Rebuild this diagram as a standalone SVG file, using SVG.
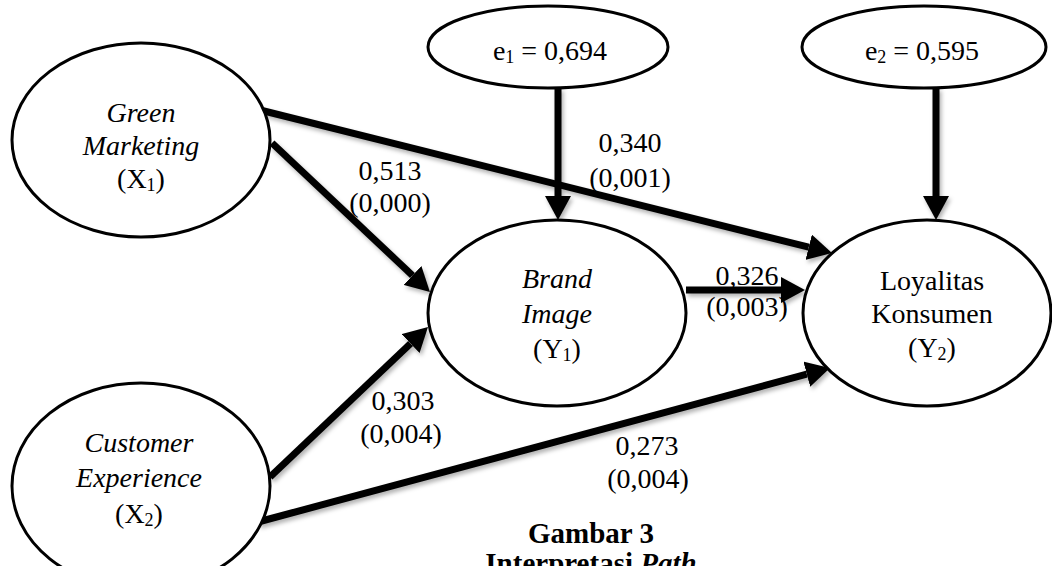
<svg xmlns="http://www.w3.org/2000/svg" width="1052" height="566" viewBox="0 0 1052 566">
<style>
text{font-family:"Liberation Serif","Times New Roman",serif;font-size:28px;fill:#000;text-anchor:middle}
.it{font-style:italic}
.sub{font-size:18px}
.node{fill:#fff;stroke:#000;stroke-width:3}
.conn{stroke:#000;stroke-width:7;fill:none;marker-end:url(#ah)}
.b{font-weight:bold}
</style>
<defs>
<marker id="ah" markerUnits="userSpaceOnUse" markerWidth="24" markerHeight="26" refX="0" refY="13" orient="auto" viewBox="0 0 24 26">
<path d="M0,0 L24,13 L0,26 z" fill="#000"/>
</marker>
<filter id="sh" x="-10%" y="-10%" width="120%" height="130%">
<feDropShadow dx="2" dy="3" stdDeviation="2" flood-color="#000" flood-opacity="0.3"/>
</filter>
</defs>
<rect width="1052" height="566" fill="#fff"/>

<g id="connectors" filter="url(#sh)">
<line class="conn" x1="558" y1="88" x2="558" y2="196"/>
<line class="conn" x1="936" y1="88" x2="936" y2="196"/>
<line class="conn" x1="260" y1="110" x2="808.7" y2="247.2"/>
<line class="conn" x1="272" y1="143" x2="412.5" y2="275.5"/>
<line class="conn" x1="270" y1="477" x2="410.6" y2="343.5"/>
<line class="conn" x1="258" y1="522" x2="806.8" y2="374.2"/>
<line class="conn" x1="686" y1="290" x2="781" y2="290"/>
</g>

<g id="e1">
<ellipse class="node" cx="548" cy="47" rx="120" ry="41"/>
<text x="550" y="60">e<tspan class="sub" dy="3">1</tspan><tspan dy="-3"> = 0,694</tspan></text>
</g>
<g id="e2">
<ellipse class="node" cx="924" cy="47" rx="122" ry="41"/>
<text x="922" y="60">e<tspan class="sub" dy="3">2</tspan><tspan dy="-3"> = 0,595</tspan></text>
</g>
<g id="green-marketing">
<ellipse class="node" cx="141" cy="140" rx="129" ry="97"/>
<text class="it" x="141" y="122">Green</text>
<text class="it" x="141" y="155">Marketing</text>
<text x="141" y="188">(X<tspan class="sub" dy="3">1</tspan><tspan dy="-3">)</tspan></text>
</g>
<g id="customer-experience">
<ellipse class="node" cx="141" cy="486" rx="129" ry="103"/>
<text class="it" x="139" y="452">Customer</text>
<text class="it" x="139" y="487">Experience</text>
<text x="139" y="523">(X<tspan class="sub" dy="3">2</tspan><tspan dy="-3">)</tspan></text>
</g>
<g id="brand-image">
<ellipse class="node" cx="557" cy="313" rx="129" ry="93"/>
<text class="it" x="557" y="288">Brand</text>
<text class="it" x="557" y="323">Image</text>
<text x="557" y="358">(Y<tspan class="sub" dy="3">1</tspan><tspan dy="-3">)</tspan></text>
</g>
<g id="loyalitas-konsumen">
<ellipse class="node" cx="927" cy="313" rx="124" ry="93"/>
<text x="932" y="290">Loyalitas</text>
<text x="932" y="323">Konsumen</text>
<text x="932" y="357">(Y<tspan class="sub" dy="3">2</tspan><tspan dy="-3">)</tspan></text>
</g>

<g id="labels">
<text x="630" y="152">0,340</text>
<text x="630" y="187">(0,001)</text>
<text x="390" y="180">0,513</text>
<text x="390" y="212">(0,000)</text>
<text x="747" y="285">0,326</text>
<text x="747" y="316">(0,003)</text>
<text x="403" y="410">0,303</text>
<text x="401" y="443">(0,004)</text>
<text x="647" y="455">0,273</text>
<text x="648" y="488">(0,004)</text>
</g>

<g id="caption">
<text class="b" x="591" y="543" style="font-size:29px">Gambar 3</text>
<text class="b" x="591" y="573" style="font-size:29px">Interpretasi <tspan class="it">Path</tspan></text>
</g>
</svg>
